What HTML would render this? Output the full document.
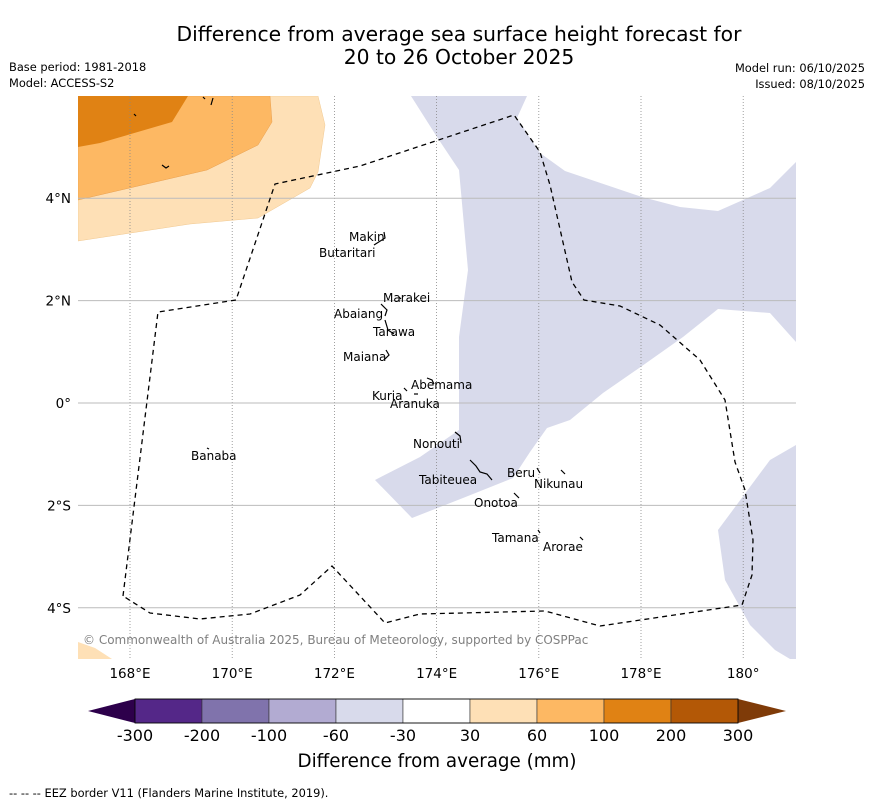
<!DOCTYPE html>
<html><head><meta charset="utf-8"><style>
body{margin:0;background:#fff;}
svg{display:block;font-family:"DejaVu Sans","Liberation Sans",sans-serif;}
</style></head><body>
<svg id="chart" width="873" height="804" viewBox="0 0 873 804" xmlns="http://www.w3.org/2000/svg">
<text x="459" y="41" font-size="20.3" text-anchor="middle">Difference from average sea surface height forecast for</text>
<text x="459" y="64" font-size="20.3" text-anchor="middle">20 to 26 October 2025</text>
<text x="9" y="71" font-size="11.4">Base period: 1981-2018</text>
<text x="9" y="87" font-size="11.4">Model: ACCESS-S2</text>
<text x="865" y="72" font-size="11.4" text-anchor="end">Model run: 06/10/2025</text>
<text x="865" y="88" font-size="11.4" text-anchor="end">Issued: 08/10/2025</text>
<defs><clipPath id="mapclip"><rect x="78" y="96" width="718" height="563"/></clipPath></defs>
<g id="map" clip-path="url(#mapclip)">
<polygon fill="#fee0b6" stroke="#f0c890" stroke-width="0.5" points="78,96 318,96 325,125 318,172 310,188 258,218 190,224 78,241"/>
<polygon fill="#fdb863" stroke="#e8a050" stroke-width="0.5" points="78,96 270,96 272,122 258,145 207,170 78,200"/>
<polygon fill="#e08214" points="78,96 188,96 172,122 100,143 78,147"/>
<polygon fill="#fee0b6" points="78,642 95,648 112,659 78,659"/>
<polygon fill="#d8daeb" points="411,96 527,96 517,118 540,153 565,171 642,197 680,207 718,211 770,188 796,162 796,342 770,313 718,309 683,337 642,366 603,393 570,420 547,428 530,452 513,478 463,498 412,518 375,480 420,457 459,430 459,337 468,270 459,170 437,137"/>
<polygon fill="#d8daeb" points="796,445 770,460 718,530 725,580 750,625 775,650 790,659 796,659"/>
<g id="grid"></g>
<path fill="none" stroke="#000" stroke-width="1.3" stroke-dasharray="5,4" d="M123,596 L158,312 L236,300 L275,184 L360,166 L514,115 L540,152 L550,185 L572,282 L584,300 L620,306 L660,325 L700,360 L725,400 L735,462 L745,490 L753,540 L752,575 L742,605 L600,626 L545,611 L420,614 L385,623 L332,566 L300,595 L250,614 L200,619 L150,613 L123,596"/>
<g id="islands" fill="none" stroke="#000" stroke-width="1.2">
<path d="M384,232 L385,238 L374,245"/><path d="M381,304 L387,310 L385,316"/><path d="M385,320 L388,330 L394,334"/><path d="M386,350 L389,355 L385,359"/><path d="M427,378 L432,380 L434,384"/><path d="M404,388 L407,391"/><path d="M414,394 L418,394"/><path d="M455,432 L460,436 L461,443"/><path d="M470,460 L476,466 L480,472 L487,474 L492,480"/><path d="M537,468 L540,473"/><path d="M561,470 L565,474"/><path d="M514,493 L519,498"/><path d="M538,530 L540,533"/><path d="M580,537 L583,540"/><path d="M399,297 L401,299"/><path d="M134,114 L136,116"/><path d="M203,97 L205,99"/><path d="M213,98 L211,105"/><path d="M162,165 L166,168 L169,166"/><path d="M207,448 L209,449"/>
</g>
<g font-size="12" fill="#000">
<text x="349" y="241">Makin</text><text x="319" y="257">Butaritari</text><text x="383" y="302">Marakei</text><text x="334" y="318">Abaiang</text><text x="373" y="336">Tarawa</text><text x="343" y="361">Maiana</text><text x="411" y="389">Abemama</text><text x="372" y="400">Kuria</text><text x="390" y="408">Aranuka</text><text x="413" y="448">Nonouti</text><text x="191" y="460">Banaba</text><text x="507" y="477">Beru</text><text x="534" y="488">Nikunau</text><text x="419" y="484">Tabiteuea</text><text x="474" y="507">Onotoa</text><text x="492" y="542">Tamana</text><text x="543" y="551">Arorae</text>
</g>
<text x="83" y="644" font-size="12" fill="#808080">© Commonwealth of Australia 2025, Bureau of Meteorology, supported by COSPPac</text>
</g>
<g id="axes"></g>
<g id="colorbar"></g>
<text x="437" y="767" font-size="18.3" text-anchor="middle">Difference from average (mm)</text>
<text x="9" y="797" font-size="11.4">--  --  -- EEZ border V11 (Flanders Marine Institute, 2019).</text>
</svg>
<script>
const lonTicks=[168,170,172,174,176,178,180];
const lonLabels=["168°E","170°E","172°E","174°E","176°E","178°E","180°"];
const latTicks=[4,2,0,-2,-4];
const latLabels=["4°N","2°N","0°","2°S","4°S"];
const cbLevels=["-300","-200","-100","-60","-30","30","60","100","200","300"];
const cbColors=["#542788","#8073ac","#b2abd2","#d8daeb","#ffffff","#fee0b6","#fdb863","#e08214","#b35806"];
const NS="http://www.w3.org/2000/svg";
function xLon(l){return 130+(l-168)*51.1;}
function yLat(l){return 403-l*51.2;}
function mk(t,a,p){const e=document.createElementNS(NS,t);for(const k in a)e.setAttribute(k,a[k]);p.appendChild(e);return e;}
const grid=document.getElementById('grid'),axes=document.getElementById('axes'),cb=document.getElementById('colorbar');
lonTicks.forEach((l,i)=>{const x=xLon(l);
const g=mk('line',{x1:x,x2:x,y1:96,y2:659,stroke:'#888','stroke-width':0.8,'stroke-dasharray':'1,2'},grid);


const t=mk('text',{x:x,y:678,'font-size':13.5,'text-anchor':'middle'},axes);t.textContent=lonLabels[i];

});
latTicks.forEach((l,i)=>{const y=yLat(l);
const g=mk('line',{x1:78,x2:796,y1:y,y2:y,stroke:'#bbb','stroke-width':1},grid);


const t=mk('text',{x:71,y:y+5,'font-size':13.5,'text-anchor':'end'},axes);t.textContent=latLabels[i];

});
const x0=135,x1=738,w=(x1-x0)/cbColors.length,yT=699,yB=723;
const lt=mk('polygon',{points:`88,711 ${x0},${yT} ${x0},${yB}`,fill:'#2d004b'},cb);


const rt=mk('polygon',{points:`${x1},${yT} 786,711 ${x1},${yB}`,fill:'#7f3b08'},cb);


cbColors.forEach((c,i)=>{const r=mk('rect',{x:x0+i*w,y:yT,width:w,height:yB-yT,fill:c,stroke:'#333','stroke-width':0.6},cb);

});
mk('rect',{x:x0,y:yT,width:x1-x0,height:yB-yT,fill:'none',stroke:'#000','stroke-width':0.8},cb);
cbLevels.forEach((v,i)=>{const t=mk('text',{x:x0+i*w,y:741,'font-size':16,'text-anchor':'middle'},cb);t.textContent=v;

});
</script>
</body></html>
